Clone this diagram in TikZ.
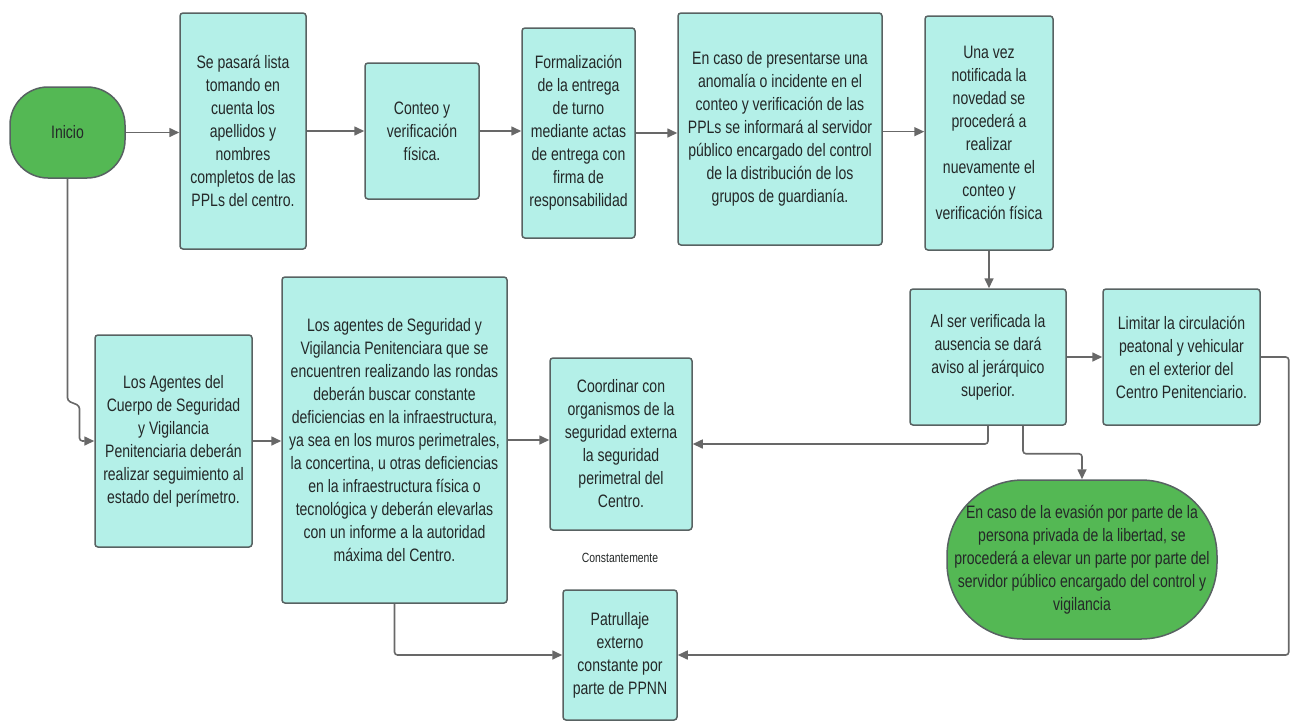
\documentclass[tikz,border=0pt]{standalone}
\usepackage{fontspec}
\setmainfont{Liberation Sans}[FakeStretch=0.78]
\usetikzlibrary{arrows.meta}
\newlength{\pix}
\setlength{\pix}{0.75pt}
\definecolor{aguamarina}{RGB}{180,240,232}
\definecolor{verde}{RGB}{84,184,84}
\definecolor{borde}{RGB}{88,98,98}
\definecolor{linea}{RGB}{104,104,104}
\definecolor{texto}{RGB}{36,40,40}
\begin{document}
\begin{tikzpicture}[x = 0.75pt, y = -0.75pt,
    caja/.style = {draw = borde, line width = 1.5\pix, fill = aguamarina, rounded corners = 3\pix,
      align = center, inner sep = 0pt, text = texto, font = \fontsize{13.5}{17.25}\selectfont},
    terminal/.style = {caja, fill = verde, text = texto},
    flecha/.style = {draw = linea, line width = 1.6\pix, rounded corners = 3\pix,
      -{Triangle[length = 7.5pt, width = 6.75pt]}}]
  \useasboundingbox (0, 0) rectangle (1292, 722);

  % fila superior
  \node[terminal, rounded corners = 38\pix, minimum width = 115\pix, minimum height = 91\pix] (inicio) at (67.5, 132.5) {Inicio};
  \node[caja, minimum width = 126\pix, minimum height = 236\pix] (paso1) at (243, 131) {Se pasará lista\\ tomando en\\ cuenta los\\ apellidos y\\ nombres\\ completos de las\\ PPLs del centro.};
  \node[caja, minimum width = 114\pix, minimum height = 136\pix] (paso2) at (422, 131) {Conteo y\\ verificación\\ física.};
  \node[caja, minimum width = 113\pix, minimum height = 210\pix] (paso3) at (578.5, 133) {Formalización\\ de la entrega\\ de turno\\ mediante actas\\ de entrega con\\ firma de\\ responsabilidad};
  \node[caja, minimum width = 204\pix, minimum height = 232\pix] (paso4) at (780, 129) {En caso de presentarse una\\ anomalía o incidente en el\\ conteo y verificación de las\\ PPLs se informará al servidor\\ público encargado del control\\ de la distribución de los\\ grupos de guardianía.};
  \node[caja, minimum width = 128\pix, minimum height = 234\pix] (paso5) at (989, 133) {Una vez\\ notificada la\\ novedad se\\ procederá a\\ realizar\\ nuevamente el\\ conteo y\\ verificación física};

  % fila inferior
  \node[caja, minimum width = 157\pix, minimum height = 212\pix] (cuerpo) at (173.5, 441) {Los Agentes del\\ Cuerpo de Seguridad\\ y Vigilancia\\ Penitenciaria deberán\\ realizar seguimiento al\\ estado del perímetro.};
  \node[caja, minimum width = 225\pix, minimum height = 326\pix] (rondas) at (394.5, 440) {Los agentes de Seguridad y\\ Vigilancia Penitenciara que se\\ encuentren realizando las rondas\\ deberán buscar constante\\ deficiencias en la infraestructura,\\ ya sea en los muros perimetrales,\\ la concertina, u otras deficiencias\\ en la infraestructura física o\\ tecnológica y deberán elevarlas\\ con un informe a la autoridad\\ máxima del Centro.};
  \node[caja, minimum width = 142\pix, minimum height = 172\pix] (coordinar) at (621, 444) {Coordinar con\\ organismos de la\\ seguridad externa\\ la seguridad\\ perimetral del\\ Centro.};
  \node[caja, minimum width = 114\pix, minimum height = 130\pix] (patrullaje) at (620, 655) {Patrullaje\\ externo\\ constante por\\ parte de PPNN};
  \node[caja, minimum width = 156\pix, minimum height = 136\pix] (ausencia) at (988, 357) {Al ser verificada la\\ ausencia se dará\\ aviso al jerárquico\\ superior.};
  \node[caja, minimum width = 157\pix, minimum height = 136\pix] (limitar) at (1181.5, 357) {Limitar la circulación\\ peatonal y vehicular\\ en el exterior del\\ Centro Penitenciario.};
  \node[terminal, rounded corners = 76\pix, minimum width = 270\pix, minimum height = 159\pix] (evasion) at (1082, 559.5) {En caso de la evasión por parte de la\\ persona privada de la libertad, se\\ procederá a elevar un parte por parte del\\ servidor público encargado del control y\\ vigilancia};
  \node[text = texto, font = \fontsize{10}{12}\selectfont] (constante) at (620, 558) {Constantemente};

  % conectores
  \draw[flecha] (inicio.east) -- (inicio.east -| paso1.west);
  \draw[flecha] (paso1.east) -- (paso1.east -| paso2.west);
  \draw[flecha] (paso2.east) -- (paso2.east -| paso3.west);
  \draw[flecha] (paso3.east) -- (paso3.east -| paso4.west);
  \draw[flecha] ([yshift = -2pt]paso4.east) -- ([yshift = -2pt]paso4.east -| paso5.west);
  \draw[flecha] (paso5.south) -- (paso5.south |- ausencia.north);
  \draw[flecha] (inicio.south) -- ++(0, 222) -- ++(12, 5) |- (cuerpo.west);
  \draw[flecha] (cuerpo.east) -- (cuerpo.east -| rondas.west);
  \draw[flecha] (rondas.east) -- (rondas.east -| coordinar.west);
  \draw[flecha] (ausencia.south) |- (coordinar.east);
  \draw[flecha] ([xshift = 26.25pt]ausencia.south) -- ++(0, 28) -| (evasion.north);
  \draw[flecha] (ausencia.east) -- (ausencia.east -| limitar.west);
  \draw[flecha] (limitar.east) -- ++(28, 0) |- (patrullaje.east);
  \draw[flecha] (rondas.south) |- (patrullaje.west);
\end{tikzpicture}
\end{document}
